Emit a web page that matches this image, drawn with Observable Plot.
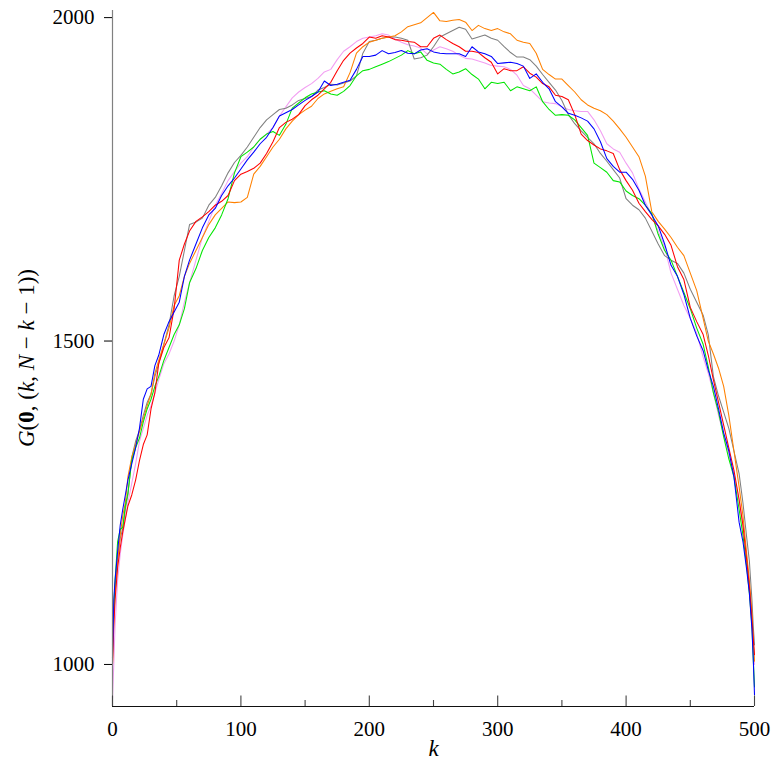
<!DOCTYPE html>
<html>
<head>
<meta charset="utf-8">
<script src="https://cdn.jsdelivr.net/npm/d3@7"></script>
<script src="https://cdn.jsdelivr.net/npm/@observablehq/plot@0.6"></script>
<style>
  html, body { margin: 0; padding: 0; background: #fff; }
  #chart svg { display: block; }
  #chart svg text { font-family: "Liberation Serif", "DejaVu Serif", serif; }
</style>
</head>
<body>
<div id="chart"></div>
<script>
// k grid (x values)
const k = [0,1,2,4,6,8,10,12,15,18,21,24,27,30,33,36,40,44,48,52,56,60,
  65,70,75,80,85,90,95,100,105,110,115,120,125,130,135,140,145,150,155,160,165,170,175,180,185,190,195,200,
  205,210,215,220,225,230,235,240,245,250,255,260,265,270,275,280,285,290,295,300,305,310,315,320,325,330,335,340,345,350,
  355,360,365,370,375,380,385,390,395,400,405,410,415,420,425,430,435,440,445,450,455,460,
  464,468,472,476,480,484,488,491,494,496,498,499,500];

const blueSeries = [1010,1100,1130,1175,1215,1240,1262,1285,1310,1335,1365,1410,1426,1430,1462,1478,1510,1530,1545,1560,1600,1625,
  1650,1675,1695,1705,1725,1740,1752,1766,1780,1792,1805,1815,1830,1848,1853,1858,1865,1872,1878,1885,1902,1895,1897,1900,1903,1920,1940,1940,
  1942,1949,1944,1946,1949,1945,1944,1950,1952,1947,1945,1944,1944,1944,1940,1955,1947,1944,1940,1929,1930,1931,1929,1925,1906,1913,1900,1890,1870,1862,
  1852,1849,1845,1840,1828,1808,1782,1770,1761,1761,1750,1733,1710,1695,1678,1650,1617,1600,1572,1535,1508,1485,
  1455,1430,1395,1358,1330,1290,1220,1190,1145,1110,1055,1010,953];

const redSeries = [1000,1060,1100,1150,1180,1205,1225,1245,1262,1285,1315,1340,1355,1395,1420,1465,1490,1505,1550,1625,1650,1670,
  1685,1692,1700,1710,1716,1725,1748,1758,1762,1767,1775,1790,1808,1830,1838,1843,1850,1864,1873,1880,1890,1900,1918,1934,1945,1953,1960,1970,
  1968,1972,1970,1966,1965,1963,1962,1955,1955,1968,1973,1966,1960,1955,1948,1948,1946,1938,1931,1913,1921,1918,1918,1924,1914,1908,1898,1893,1880,1878,
  1873,1850,1820,1810,1803,1797,1794,1790,1765,1748,1733,1713,1700,1688,1678,1665,1648,1615,1595,1552,1530,1510,
  1478,1440,1405,1370,1335,1300,1255,1215,1160,1120,1070,1040,1015];

const greenSeries = [1030,1090,1130,1190,1209,1212,1245,1265,1315,1335,1350,1375,1395,1410,1430,1445,1470,1490,1510,1525,1550,1590,
  1612,1640,1660,1675,1695,1720,1760,1785,1792,1800,1812,1820,1824,1818,1835,1860,1868,1876,1882,1885,1887,1882,1880,1886,1895,1910,1918,1920,
  1924,1928,1932,1937,1942,1949,1944,1947,1934,1930,1928,1920,1913,1916,1921,1912,1905,1890,1900,1898,1900,1887,1893,1890,1887,1893,1870,1858,1849,1850,
  1849,1842,1830,1818,1775,1768,1761,1748,1746,1732,1725,1720,1710,1697,1665,1640,1625,1600,1575,1550,1520,1495,
  1460,1420,1390,1352,1318,1290,1240,1200,1150,1110,1060,1010,965];

const graySeries = [1040,1080,1120,1165,1195,1210,1240,1262,1320,1345,1362,1385,1405,1418,1445,1465,1495,1525,1570,1600,1640,1680,
  1684,1690,1710,1722,1740,1760,1776,1787,1800,1815,1830,1842,1850,1858,1860,1865,1872,1875,1878,1888,1892,1897,1896,1899,1902,1910,1945,1963,
  1965,1968,1970,1970,1968,1965,1936,1938,1942,1955,1970,1975,1980,1985,1982,1967,1970,1973,1968,1965,1955,1946,1939,1939,1935,1925,1912,1900,1888,1872,
  1850,1836,1825,1815,1805,1790,1778,1765,1752,1720,1710,1703,1690,1670,1650,1632,1625,1620,1605,1580,1560,1540,
  1510,1445,1415,1390,1365,1330,1295,1250,1195,1160,1100,1060,1030];

const orangeSeries = [1000,1070,1110,1160,1200,1230,1250,1290,1320,1340,1360,1380,1400,1418,1450,1470,1495,1520,1555,1570,1600,1620,
  1640,1660,1680,1695,1705,1715,1714,1715,1722,1758,1770,1785,1800,1812,1828,1840,1850,1857,1863,1875,1882,1886,1890,1893,1915,1945,1955,1962,
  1965,1968,1970,1972,1978,1986,1989,1992,2000,2008,1995,1994,1996,1997,1993,1980,1988,1983,1980,1983,1978,1975,1965,1962,1960,1945,1920,1912,1905,1905,
  1895,1885,1873,1865,1860,1856,1850,1840,1828,1815,1800,1785,1755,1700,1685,1673,1660,1645,1632,1605,1578,1535,
  1500,1480,1458,1430,1385,1330,1275,1230,1170,1130,1080,1040,1005];

const pinkSeries = [946,1000,1060,1130,1170,1200,1225,1250,1280,1310,1345,1365,1385,1400,1420,1440,1465,1480,1500,1525,1560,1590,
  1625,1660,1685,1710,1728,1748,1762,1775,1785,1800,1812,1820,1830,1848,1862,1876,1885,1892,1898,1906,1916,1920,1935,1948,1955,1963,1968,1970,
  1972,1975,1973,1967,1962,1958,1956,1953,1944,1950,1955,1952,1948,1942,1937,1936,1933,1930,1926,1925,1924,1920,1911,1895,1890,1880,1870,1868,1867,1862,
  1858,1856,1855,1855,1842,1825,1805,1797,1792,1775,1760,1735,1715,1695,1670,1645,1605,1580,1555,1535,1512,1475,
  1450,1420,1385,1355,1325,1295,1255,1215,1165,1125,1075,1040,1000];

const seriesOrder = [
  {name: "pink", values: pinkSeries, color: "#f29ef2"},
  {name: "gray", values: graySeries, color: "#808080"},
  {name: "orange", values: orangeSeries, color: "#ff8000"},
  {name: "green", values: greenSeries, color: "#00e600"},
  {name: "red", values: redSeries, color: "#ff0000"},
  {name: "blue", values: blueSeries, color: "#0000ff"}
];

const xMajorTicks = [0, 100, 200, 300, 400, 500];
const xMinorTicks = [50, 150, 250, 350, 450];
const yTicks = [1000, 1500, 2000];
const xDomain = [0, 500];
const yDomain = [935, 2011];

const W = 778, H = 766;
const mTop = 10, mBottom = 60, mLeft = 112, mRight = 24;
const frameH = H - mTop - mBottom;
const FONT = "'Liberation Serif', 'DejaVu Serif', serif";

const lineMarks = seriesOrder.map(s =>
  Plot.line(s.values, {x: (d, i) => k[i], y: d => d, stroke: s.color, strokeWidth: 1.05})
);

const chart = Plot.plot({
  width: W, height: H,
  marginTop: mTop, marginBottom: mBottom, marginLeft: mLeft, marginRight: mRight,
  x: {domain: xDomain},
  y: {domain: yDomain},
  style: {fontFamily: FONT, fontSize: "21px", background: "white", color: "black", overflow: "visible"},
  marks: [
    ...lineMarks,
    Plot.ruleX([xDomain[0]], {stroke: "#808080", strokeWidth: 1.2}),
    Plot.ruleY([yDomain[0]], {stroke: "#111", strokeWidth: 1.2}),
    Plot.ruleX(xMajorTicks, {x: d => d, insetTop: frameH - 10.5, stroke: "#444", strokeWidth: 1.1}),
    Plot.ruleX(xMinorTicks, {x: d => d, insetTop: frameH - 6, stroke: "#444", strokeWidth: 1.1}),
    Plot.axisY({ticks: yTicks, tickSize: 8, tickPadding: 10, tickFormat: d => String(d), label: null, fontSize: 21}),
    Plot.axisX({ticks: xMajorTicks, tickSize: 0, tickPadding: 15, tickFormat: d => String(d), label: null, fontSize: 21}),
    Plot.text(["k"], {frameAnchor: "bottom", dy: 49, text: d => d, fontStyle: "italic", fontSize: 23})
  ]
});

document.getElementById("chart").appendChild(chart);

const svg = d3.select(chart);
svg.selectAll("text").style("font-family", FONT);

// y-axis label with mixed italic / bold parts
const yl = svg.append("text")
  .attr("transform", `translate(29,${mTop + frameH / 2}) rotate(-90)`)
  .attr("text-anchor", "middle")
  .attr("dominant-baseline", "middle")
  .style("font-family", FONT)
  .attr("font-size", 23)
  .attr("fill", "black");
const parts = [
  ["G", "italic", "normal"], ["(", "normal", "normal"], ["0", "normal", "bold"],
  [", (", "normal", "normal"], ["k", "italic", "normal"], [", ", "normal", "normal"],
  ["N", "italic", "normal"], [" \u2212 ", "normal", "normal"], ["k", "italic", "normal"],
  [" \u2212 1))", "normal", "normal"]
];
parts.forEach(([t, st, wt]) => {
  yl.append("tspan").attr("font-style", st).attr("font-weight", wt).text(t);
});
</script>
</body>
</html>
